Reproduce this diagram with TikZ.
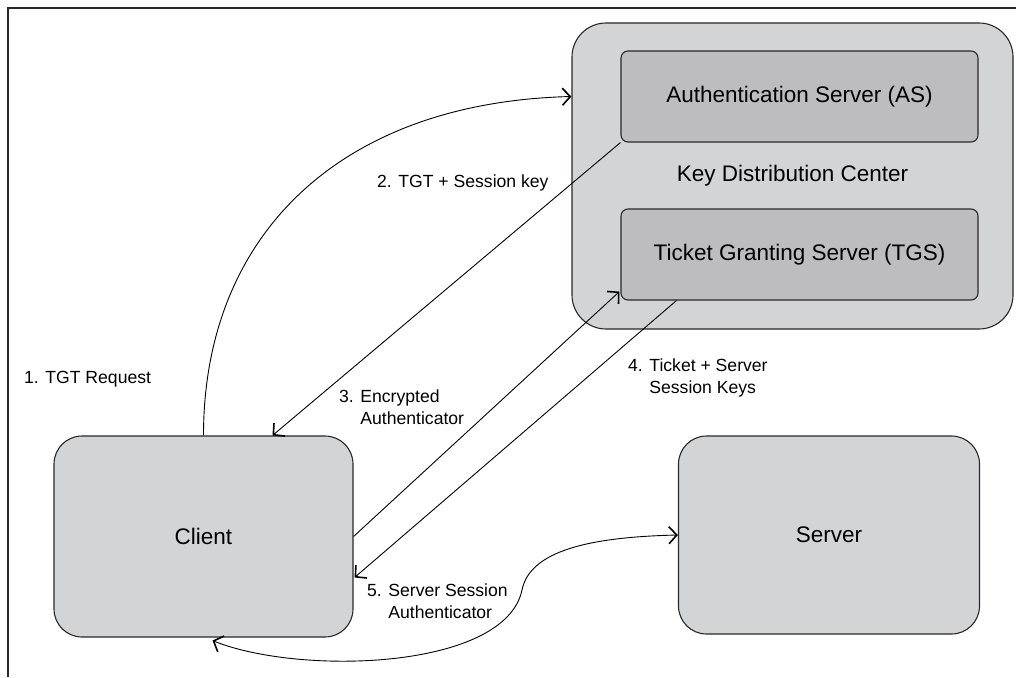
\documentclass[tikz,border=0pt]{standalone}
\usepackage{fontspec}
\setmainfont{Liberation Sans}
\usetikzlibrary{positioning,calc,arrows.meta}

\definecolor{boxgray}{RGB}{211,212,214}
\definecolor{innergray}{RGB}{189,189,191}
\definecolor{edgegray}{RGB}{40,40,40}

\begin{document}
\begin{tikzpicture}[x=1pt, y=-1pt,
  every node/.style={font=\fontsize{22.5}{27}\selectfont},
  outerbox/.style={draw=edgegray, line width=1.1pt, fill=boxgray, inner sep=0pt},
  innerbox/.style={draw=edgegray, line width=1.1pt, fill=innergray, rounded corners=7pt,
    minimum width=357pt, minimum height=91pt, inner sep=0pt},
  msg/.style={font=\fontsize{17.6}{22}\selectfont, anchor=west, inner sep=0pt, align=left},
  barb/.tip={Straight Barb[length=8pt,width=17pt,line width=1.6pt]},
  flow/.style={line width=0.9pt, -barb}]
  \useasboundingbox (0,0) rectangle (1016,677);

  % Frame (only top and left edges show)
  \draw[edgegray, line width=1.3pt] (1016,8) -- (8,8) -- (8,677);

  % Key Distribution Center with its two servers
  \node[outerbox, rounded corners=34pt, minimum width=441pt, minimum height=306pt]
    (kdc) at (792.5,176) {Key Distribution Center};
  \node[innerbox] (as) at (799.5,96.5) {Authentication Server (AS)};
  \node[innerbox] (tgs) at (799.5,254.5) {Ticket Granting Server (TGS)};

  % Client and Server
  \node[outerbox, rounded corners=28pt, minimum width=299pt, minimum height=201pt]
    (client) at (203.5,536.5) {Client};
  \node[outerbox, rounded corners=28pt, minimum width=301pt, minimum height=198pt]
    (server) at (829,535) {Server};

  % 1. TGT request
  \draw[flow] (client.north) .. controls +(0,-200) and +(-232,6) .. (as.west -| kdc.west);
  \node[msg] (req) at (24,379) {1. TGT Request};

  % 2. TGT + session key
  \draw[flow] (as.south west) -- ($(client.north west)!0.73!(client.north east)$);
  \node[msg] (key) at (377,183) {2. TGT + Session key};

  % 3. encrypted authenticator
  \draw[flow] (client.east) -- ($(tgs.south west)+(-1,-9)$);
  \node[msg] (enc) at (339,407) {3. Encrypted\\\phantom{3. }Authenticator};

  % 4. ticket + server session keys
  \draw[flow] ($(tgs.south west)+(56,0)$) -- ($(client.east)+(1,41)$);
  \node[msg] (tick) at (628,378) {4. Ticket + Server\\\phantom{4. }Session Keys};

  % 5. server session authenticator
  \coordinate (bend) at (522,590);
  \draw[flow, barb-barb]
    ($(client.south)+(9,3)$) .. controls +(87,35) and +(-17,80) .. (bend)
    .. controls +(8,-40) and +(-86,2) .. (server.west);
  \node[msg] (auth) at (367,601) {5. Server Session\\\phantom{5. }Authenticator};
\end{tikzpicture}
\end{document}
